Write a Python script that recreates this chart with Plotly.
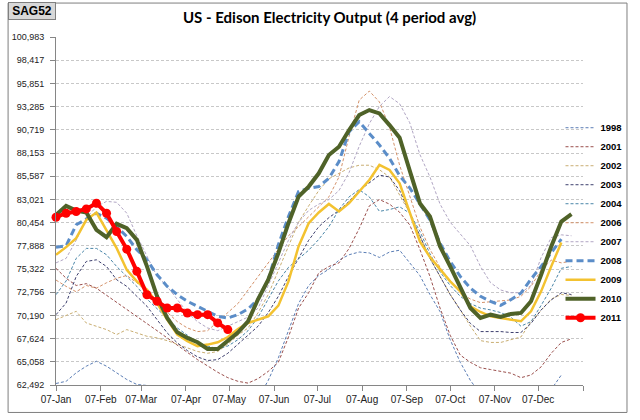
import pandas as pd
import plotly.graph_objects as go

weeks = pd.date_range("2011-01-07", periods=52, freq="7D")

y1998 = [62660, 62900, 63840, 64570, 65120, 64570, 63840, 63100, 62550, 62440,
         61900, 61400, 61000, 60600, 60300, 60100, 60000, 60100, 60300, 60600,
         61000, 63000, 65500, 68500, 71500, 73500, 74600, 75300, 76300, 76900,
         77200, 77100, 76600, 77200, 77400, 76000, 74600, 72500, 70600, 67500,
         65000, 63000, 61500, 60500, 60000, 60000, 60000, 60200, 60800, 62000,
         63600]
y2001 = [75400, 74300, 73500, 73700, 73200, 72400, 71600, 70800, 70000, 69300,
         68500, 67700, 66900, 66100, 65300, 64600, 63900, 63300, 62900, 62700,
         63200, 64000, 65000, 67800, 71000, 72700, 74900, 75600, 76000, 77600,
         79800, 82300, 83000, 82500, 81600, 80200, 77500, 74500, 71000, 68000,
         65800, 65000, 64400, 64200, 64000, 63800, 63300, 63600, 64500, 66000,
         67200, 67600]
y2002 = [69720, 70200, 70640, 69350, 68990, 68620, 68070, 68620, 68250, 67880,
         67700, 67400, 67000, 66600, 66200, 66000, 66200, 67000, 68000, 68800,
         70500, 72500, 75200, 78000, 80500, 82300, 84000, 85300, 85900, 86500,
         86800, 86800, 86300, 85500, 83500, 81500, 79000, 76500, 74500, 72500,
         70800, 69000, 67400, 67200, 67200, 67500, 67800, 69500, 70800, 72000,
         72500, 72400]
y2003 = [70270, 71560, 74500, 76160, 76340, 75600, 74140, 73400, 72300, 71200,
         69720, 68250, 67150, 66300, 65600, 65200, 65300, 66000, 67000, 68000,
         69000, 70500, 72300, 74500, 76500, 78500, 80000, 81000, 81800, 82800,
         84000, 84800, 85700, 85500, 84000, 81500, 79000, 76500, 74500, 72500,
         70800, 69300, 68400, 68400, 68400, 68300, 68300, 69300, 70800, 71900,
         72700, 72500]
y2004 = [72480, 74000, 76500, 77600, 77600, 76900, 75600, 74500, 73400, 72000,
         70900, 69800, 68800, 68000, 67200, 66800, 66500, 66800, 67500, 68500,
         70000, 72000, 74000, 75500, 76500, 77400, 78600, 80000, 81900, 83300,
         84100, 83300, 81700, 81900, 82200, 81500, 79500, 77000, 75000, 73500,
         72300, 71500, 71000, 70800, 70500, 70000, 69000, 69500, 71300, 73200,
         75400, 75600]
y2006 = [74100, 73400, 72800, 73500, 73200, 73800, 74300, 74600, 73800, 72800,
         71600, 70500, 69500, 68800, 68400, 68500, 69500, 70500, 71500, 73000,
         74500, 76000, 77500, 79000, 80000, 81100, 82200, 83300, 85500, 90000,
         94000, 95000, 93800, 91000, 86800, 83500, 80000, 77500, 75500, 74000,
         72700, 72000, 71600, 71700, 71800, 71900, 72300, 73400, 75200, 76300,
         76000, 76200]
y2007 = [76000, 76500, 78500, 81000, 82200, 82800, 82700, 81500, 79000, 76700,
         74500, 73400, 72000, 70500, 69500, 68800, 68500, 69000, 69500, 70000,
         71000, 73500, 76000, 78500, 80500, 81800, 82500, 83000, 84000, 86000,
         88900, 91400, 93300, 94400, 93600, 91500, 88000, 85500, 82500, 80500,
         79200, 77900, 75600, 73800, 73000, 72700, 72700, 73500, 76600, 78800,
         79100, 79000]
y2008 = [77740, 77890, 80210, 80830, 81490, 80940, 80020, 78920, 77450, 76340,
         74690, 73400, 72480, 71750, 71190, 70640, 70090, 69900, 70270, 70900,
         72000, 74140, 78000, 81130, 83890, 84250, 84440, 85360, 87200, 90510,
         91610, 90320, 89040, 87570, 85630, 84300, 82600, 80760, 78180, 76160,
         74500, 73220, 72300, 71750, 71300, 71930, 72660, 74210, 75610, 77080,
         78630]
y2009 = [76900, 77740, 78740, 80760, 81570, 79660, 77630, 75240, 73950, 73030,
         71560, 69720, 68070, 67330, 66780, 66960, 67220, 67800, 68690, 69350,
         69720, 70090, 71270, 73950, 77820, 80390, 81570, 82520, 81680, 82600,
         83890, 85170, 86830, 86280, 84800, 81700, 78370, 76640, 75240, 73950,
         72850, 71190, 70570, 70090, 69900, 69720, 69540, 70640, 72850, 75610,
         78260]
y2010 = [81310, 82300, 81790, 81570, 79660, 78850, 80320, 79840, 78550, 75610,
         72300, 69900, 68320, 67700, 67220, 66480, 66480, 67330, 68300, 69540,
         72000, 74140, 77080, 80390, 83330, 84440, 85910, 87930, 88850, 90690,
         92350, 92900, 92530, 91240, 89850, 86200, 82600, 81130, 77820, 75610,
         73220, 71010, 69900, 70270, 70020, 70350, 70460, 71750, 74690, 77820,
         80570, 81380]
y2011 = [81050, 81490, 81680, 81970, 82600, 81490, 79470, 77520, 75060, 72480,
         71750, 71010, 71010, 70460, 70270, 70270, 69360, 68620]

y_tick_labels = ["62,492", "65,058", "67,624", "70,190", "72,756", "75,322",
                 "77,888", "80,454", "83,021", "85,587", "88,153", "90,719",
                 "93,285", "95,851", "98,417", "100,983"]
x_tick_labels = ["07-Jan", "07-Feb", "07-Mar", "07-Apr", "07-May", "07-Jun",
                 "07-Jul", "07-Aug", "07-Sep", "07-Oct", "07-Nov", "07-Dec", ""]

y_min, y_max = 62492, 100983
y_tick_vals = [y_min + k * (y_max - y_min) / 15 for k in range(16)]
x_tick_vals = pd.date_range("2011-01-01", periods=13, freq="MS") + pd.Timedelta(days=6)

thin = [("1998", y1998, "#5a7db5"), ("2001", y2001, "#9a4f4c"),
        ("2002", y2002, "#c9ae72"), ("2003", y2003, "#3d3f6e"),
        ("2004", y2004, "#4a86a8"), ("2006", y2006, "#d4926a"),
        ("2007", y2007, "#b1a6c4")]

fig = go.Figure()
for name, vals, col in thin:
    fig.add_trace(go.Scatter(x=weeks[:len(vals)], y=vals, name=name, mode="lines",
                             line=dict(color=col, width=1, dash="3px,2px")))
fig.add_trace(go.Scatter(x=weeks[:len(y2008)], y=y2008, name="2008", mode="lines",
                         line=dict(color="#5b8dc8", width=3, dash="7px,4px")))
fig.add_trace(go.Scatter(x=weeks[:len(y2009)], y=y2009, name="2009", mode="lines",
                         line=dict(color="#f3c230", width=2.5)))
fig.add_trace(go.Scatter(x=weeks[:len(y2010)], y=y2010, name="2010", mode="lines",
                         line=dict(color="#4f6228", width=4)))
fig.add_trace(go.Scatter(x=weeks[:len(y2011)], y=y2011, name="2011", mode="lines+markers",
                         line=dict(color="#ff0000", width=4),
                         marker=dict(color="#ff0000", size=9), cliponaxis=False))

L, R, T, B = 52, 49, 37, 34.5
pw, ph = 640 - L - R, 420 - T - B

def px(xp):
    return (xp - L) / pw

def py(yp):
    return (420 - B - yp) / ph

fig.update_layout(
    width=640, height=420,
    margin=dict(l=L, r=R, t=T, b=B),
    paper_bgcolor="white", plot_bgcolor="white",
    title=dict(text="<b>US - Edison Electricity Output (4 period avg)</b>",
               x=0.515, xanchor="center", y=0.957, yanchor="middle",
               font=dict(family="Lato", size=15, color="black")),
    xaxis=dict(type="date", range=["2011-01-07", "2012-01-07"],
               tickvals=x_tick_vals, ticktext=x_tick_labels,
               showgrid=False, showline=True, linecolor="#868686", linewidth=1,
               ticks="outside", ticklen=5, tickcolor="#868686",
               tickfont=dict(family="Liberation Sans", size=10, color="#222")),
    yaxis=dict(range=[y_min, y_max], tickvals=y_tick_vals, ticktext=y_tick_labels,
               showgrid=True, gridcolor="#c8c8c8", griddash="3px,2px", gridwidth=1,
               showline=True, linecolor="#868686", linewidth=1,
               ticks="outside", ticklen=5, tickcolor="#868686",
               ticklabelstandoff=4, zeroline=False,
               tickfont=dict(family="Liberation Sans", size=9, color="#222")),
    legend=dict(x=px(568), y=py(223), xanchor="left", yanchor="middle",
                bgcolor="rgba(0,0,0,0)", borderwidth=0,
                font=dict(family="Liberation Sans", size=9.5, color="black",
                          weight="bold"),
                itemwidth=30, tracegroupgap=0),
    showlegend=True,
)

fig.add_shape(type="rect", xref="paper", yref="paper",
              x0=px(3), x1=px(636), y0=py(413), y1=py(3),
              line=dict(color="#7f7f7f", width=1), layer="below")
fig.add_annotation(text="<b>SAG52</b>", xref="paper", yref="paper",
                   x=px(27), y=py(11), xanchor="center", yanchor="middle",
                   showarrow=False, bgcolor="#d8d8d8", bordercolor="#808080",
                   borderwidth=1, borderpad=1, width=44,
                   font=dict(family="Liberation Sans", size=12, color="black"))

fig.write_html("out.html", config={"displayModeBar": False},
               post_script="document.body.style.margin='0';")
